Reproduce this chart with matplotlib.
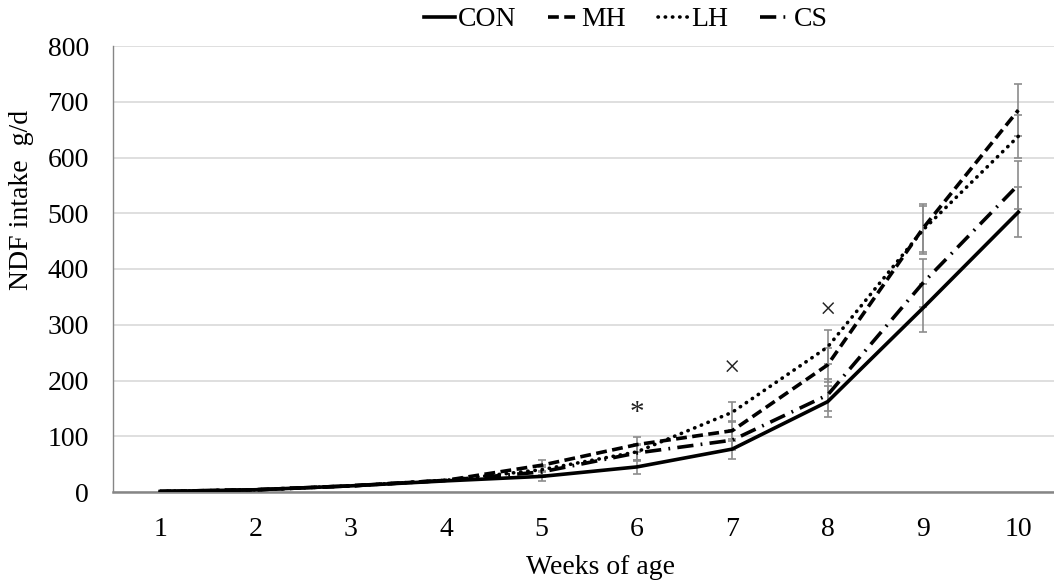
import matplotlib
matplotlib.use("Agg")
import matplotlib.pyplot as plt
import numpy as np

weeks = [1, 2, 3, 4, 5, 6, 7, 8, 9, 10]
con = [1, 4, 11, 20, 28, 45, 77, 162, 330, 502]
mh = [1, 4, 11, 21, 48, 85, 110, 228, 473, 685]
lh = [1, 4, 11, 21, 40, 72, 143, 260, 470, 638]
cs = [1, 4, 11, 21, 36, 70, 93, 174, 375, 551]
err_con = [np.nan, np.nan, np.nan, np.nan, 8, 13, 18, 28, 43, 45]
err_mh = [np.nan, np.nan, np.nan, np.nan, 10, 14, 18, 30, 43, 47]
err_lh = [np.nan, np.nan, np.nan, np.nan, 9, 14, 18, 30, 43, 39]
err_cs = [np.nan, np.nan, np.nan, np.nan, 9, 14, 18, 28, 43, 43]
marks = [("*", 6, 141), ("×", 7, 220), ("×", 8, 323)]

plt.rcParams['font.family'] = ['Liberation Serif', 'DejaVu Serif']

fig = plt.figure(figsize=(10.54, 5.85), dpi=100)
ax = fig.add_axes([112.5/1054, (585-492)/585, (1066-112.5)/1054, (492-46)/585])

series = [
    ("CON", con, err_con, dict(linestyle='-')),
    ("MH", mh, err_mh, dict(linestyle=(0, (3.0, 1.5)))),
    ("LH", lh, err_lh, dict(linestyle=(0, (0.1, 1.9)), dash_capstyle='round')),
    ("CS", cs, err_cs, dict(linestyle=(0, (4.5, 2.0, 0.5, 2.0)))),
]

for name, vals, err, st in series:
    x = np.array(weeks, dtype=float)
    y = np.array(vals, dtype=float)
    e = np.array(err, dtype=float)
    m = ~np.isnan(e)
    ax.errorbar(x[m], y[m], yerr=e[m], fmt='none', ecolor='#8c8c8c',
                elinewidth=1.2, capsize=3, capthick=1.2, zorder=2)
    ax.plot(x, y, color='black', linewidth=2.6, label=name, zorder=3, **st)

for txt, xw, yv in marks:
    ax.text(xw, yv, txt, ha='center', va='center', fontsize=21, color='#222222')

ax.set_xlim(0.5, 10.5)
ax.set_ylim(0, 800)
ax.set_yticks(range(0, 801, 100))
ax.set_xticks(weeks)
ax.yaxis.grid(True, color='#d9d9d9', linewidth=1.2)
ax.set_axisbelow(True)
for s in ['top', 'right']:
    ax.spines[s].set_visible(False)
ax.spines['left'].set_color('#868686')
ax.spines['left'].set_linewidth(1.0)
ax.spines['bottom'].set_color('#868686')
ax.spines['bottom'].set_linewidth(1.8)
ax.tick_params(axis='both', length=0, labelsize=20)
ax.tick_params(axis='x', pad=18)
ax.tick_params(axis='y', pad=17)

fig.text(22/1054, 1 - 200/585, "NDF intake  g/d", rotation=90, ha='center', va='center', fontsize=20)
fig.text(600/1054, 1 - 568/585, "Weeks of age", ha='center', va='center', fontsize=20)

leg = ax.legend(loc='upper center', bbox_to_anchor=(626/1054, 1.0), bbox_transform=fig.transFigure,
                ncol=4, frameon=False, fontsize=20, handlelength=1.1, handletextpad=0.1,
                columnspacing=1.15, borderaxespad=0.05, borderpad=0.2)

fig.savefig("out.png", dpi=100)
